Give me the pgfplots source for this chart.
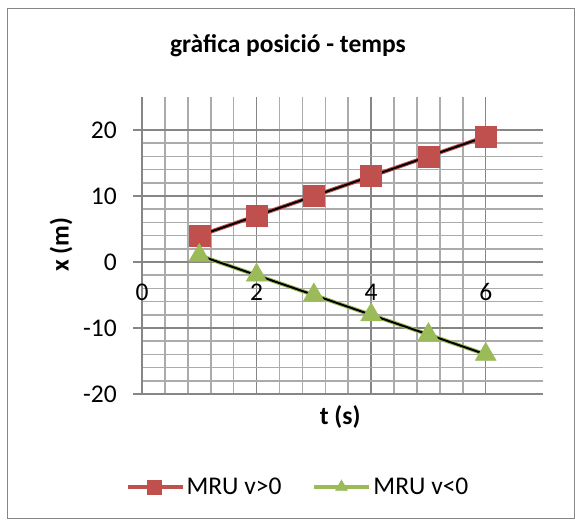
\documentclass[border=0pt]{standalone}
\usepackage{pgfplots}
\pgfplotsset{compat=1.18}
\usepackage{fontspec}
\setmainfont{Carlito}
\definecolor{exred}{HTML}{C0504D}
\definecolor{exgreen}{HTML}{9BBB59}
\definecolor{majgrid}{HTML}{868686}
\definecolor{mingrid}{HTML}{ABABAB}
\begin{document}
\begin{tikzpicture}[x=1pt,y=1pt]
\path (0,0) rectangle (575,-519);
\draw[majgrid, line width=1pt] (7,-9) rectangle (574,-518);
\begin{axis}[
  at={(142pt,-394pt)}, anchor=south west,
  scale only axis, width=401pt, height=297pt,
  xmin=0, xmax=7, ymin=-20, ymax=25,
  axis x line=bottom, axis y line=left,
  axis line style={majgrid, line width=1.5pt, -},
  x axis line style={draw=none},
  xtick={0,2,4,6}, ytick={-20,-10,0,10,20},
  minor x tick num=4, minor y tick num=4,
  grid=both,
  major grid style={majgrid, line width=1.5pt},
  minor grid style={mingrid, line width=1.6pt},
  tick align=outside, major tick length=9pt, minor tick length=0pt,
  tick style={majgrid, line width=1.5pt},
  xtick style={draw=none},
  /pgf/number format/assume math mode=true,
  ticklabel style={font=\fontsize{25.5}{30}\selectfont, text=black},
  xticklabel style={anchor=center, yshift=111pt},
  yticklabel style={anchor=east, inner sep=0pt, xshift=-16pt},
  title={gràfica posició - temps},
  title style={font=\bfseries\fontsize{25.5}{30}\selectfont, at={(0.364,1.152)}, anchor=center},
  xlabel={t (s)},
  xlabel style={font=\bfseries\fontsize{25.5}{30}\selectfont, at={(0.494,-0.077)}, anchor=center},
  ylabel={x (m)},
  ylabel style={font=\bfseries\fontsize{25.5}{30}\selectfont, at={(-0.202,0.502)}, anchor=center, rotate=0},
  legend style={at={(0.389,-0.313)}, anchor=center, draw=none, fill=none,
    legend columns=2, font=\fontsize{25.5}{30}\selectfont,
    /tikz/every even column/.append style={column sep=29pt}},
  legend image code/.code={\draw[#1, mark size=7pt, mark repeat=2, mark phase=2] plot coordinates {(0pt,0pt) (27pt,0pt) (55pt,0pt)};},
  clip=false,
]
\addplot[exred, line width=4pt, mark=square*, mark size=10.5pt, mark options={fill=exred, draw=exred, line width=0.5pt}]
  coordinates {(1,4) (2,7) (3,10) (4,13) (5,16) (6,19)};
\addlegendentry{MRU v>0}
\addplot[exgreen, line width=4pt, mark=triangle*, mark size=12pt, mark options={fill=exgreen, draw=exgreen, line width=0.5pt}]
  coordinates {(1,1) (2,-2) (3,-5) (4,-8) (5,-11) (6,-14)};
\addlegendentry{MRU v<0}
\addplot[black, line width=2pt, forget plot] coordinates {(1,4) (6,19)};
\addplot[black, line width=2pt, forget plot] coordinates {(1,1) (6,-14)};
\end{axis}
\end{tikzpicture}
\end{document}
